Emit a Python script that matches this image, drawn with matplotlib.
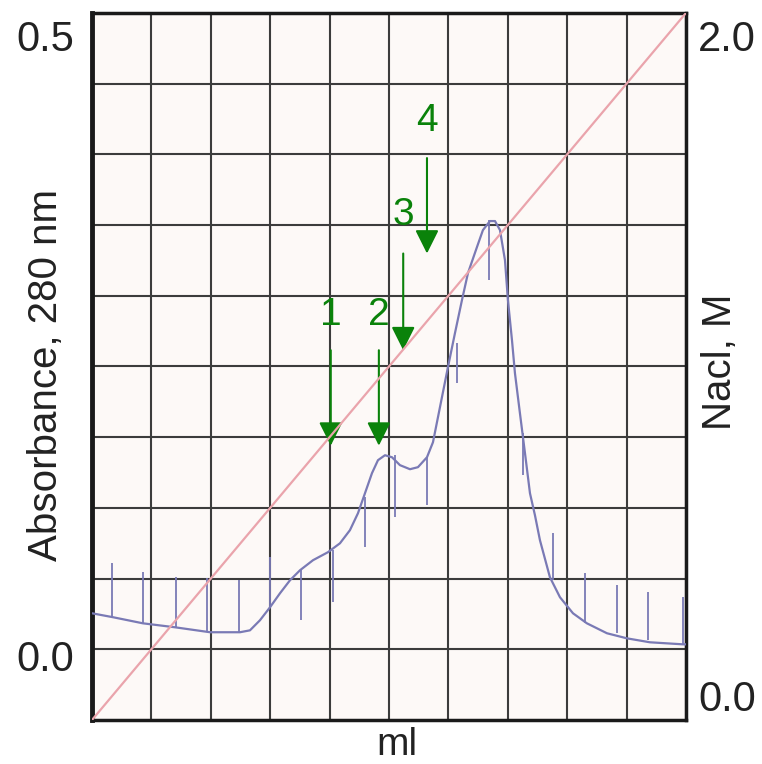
import numpy as np
import matplotlib
matplotlib.use('Agg')
import matplotlib.pyplot as plt

plt.rcParams['font.family'] = ['Liberation Sans', 'DejaVu Sans']

# Absorbance trace (ml, A280)
trace_ml = [0.00, 0.354, 0.859, 1.397, 1.987, 2.492, 2.660, 2.828, 2.997, 3.165,
            3.333, 3.502, 3.721, 3.973, 4.175, 4.343, 4.478, 4.596, 4.714, 4.815,
            4.933, 5.051, 5.185, 5.354, 5.488, 5.640, 5.741, 5.859, 5.993, 6.111,
            6.229, 6.330, 6.481, 6.582, 6.700, 6.785, 6.869, 6.953, 7.003, 7.071,
            7.121, 7.205, 7.290, 7.374, 7.458, 7.542, 7.710, 7.879, 8.098, 8.333,
            8.670, 9.007, 9.394, 9.949, 10.0]
trace_abs = [0.0283, 0.0252, 0.0204, 0.0173, 0.0134, 0.0134, 0.0149, 0.0228, 0.0330,
             0.0440, 0.0542, 0.0621, 0.0700, 0.0763, 0.0833, 0.0936, 0.1069, 0.1226,
             0.1384, 0.1486, 0.1525, 0.1509, 0.1447, 0.1415, 0.1431, 0.1509, 0.1627,
             0.1903, 0.2217, 0.2484, 0.2744, 0.2956, 0.3160, 0.3294, 0.3365, 0.3365,
             0.3294, 0.3058, 0.2744, 0.2429, 0.2170, 0.1855, 0.1541, 0.1226, 0.1053,
             0.0857, 0.0566, 0.0409, 0.0283, 0.0204, 0.0126, 0.0086, 0.0055, 0.0039,
             0.0039]

# Fraction markers (ml, top, bottom)
frac_ml = [0.337, 0.859, 1.414, 1.936, 2.475, 2.997, 3.519, 4.057, 4.596, 5.101,
           5.640, 6.145, 6.684, 7.256, 7.761, 8.300, 8.838, 9.360, 9.949]
frac_top = [0.0676, 0.0605, 0.0566, 0.0558, 0.0542, 0.0723, 0.0621, 0.0778, 0.1195,
            0.1525, 0.1509, 0.2406, 0.3373, 0.1698, 0.0912, 0.0597, 0.0503, 0.0448,
            0.0409]
frac_bot = [0.0252, 0.0204, 0.0173, 0.0134, 0.0134, 0.0330, 0.0228, 0.0370, 0.0802,
            0.1038, 0.1132, 0.2091, 0.2901, 0.1368, 0.0542, 0.0204, 0.0126, 0.0071,
            0.0039]

# NaCl gradient (ml, M)
salt_ml = [0, 10]
salt_m = [0.0, 2.0]

# Arrows: label, ml, arrow top, arrow tip, label height (absorbance units)
arrow_labels = ['1', '2', '3', '4']
arrow_ml = [4.02, 4.83, 5.24, 5.64]
arrow_top = [0.235, 0.235, 0.311, 0.386]
arrow_tip = [0.160, 0.160, 0.235, 0.311]
arrow_text_y = [0.263, 0.263, 0.341, 0.415]

row = 0.5 / 9
fig = plt.figure(figsize=(7.62, 7.64), dpi=100)
ax = fig.add_axes([0.1207, 0.0576, 0.7795, 0.9254])
ax.set_facecolor('#fdf9f7')
ax.set_xlim(0, 10)
ax.set_ylim(-row, 0.5)
ax.set_xticks(np.arange(0, 11))
ax.set_yticks(np.arange(0, 10) * row)
ax.tick_params(length=0, labelbottom=False, labelleft=False)
ax.grid(True, color='#3c3c3c', lw=1.5)
ax.set_axisbelow(True)
for s in ax.spines.values():
    s.set_linewidth(2.5)
    s.set_color('#1a1a1a')
ax.spines['left'].set_linewidth(3.5)

ax.vlines(frac_ml, frac_bot, frac_top, color='#7a7ab5', lw=1.3, zorder=3)
ax.plot(trace_ml, trace_abs, color='#7a7ab5', lw=1.6, zorder=3,
        solid_joinstyle='round')

ax2 = ax.twinx()
ax2.set_ylim(0, 2.0)
ax2.set_yticks([])
ax2.plot(salt_ml, salt_m, color='#eaa4ac', lw=1.6, zorder=2)
for s in ax2.spines.values():
    s.set_visible(False)

green = '#0a820a'
for lab, x, y0, y1, yt in zip(arrow_labels, arrow_ml, arrow_top, arrow_tip, arrow_text_y):
    ax.annotate('', xy=(x, y1), xytext=(x, y0),
                arrowprops=dict(arrowstyle='-|>,head_length=1.44,head_width=0.72',
                                color=green, lw=1.5, shrinkA=0, shrinkB=0), zorder=5)
    ax.text(x, yt, lab, color=green, fontsize=28, ha='center', va='center', zorder=5)

fs = 30
tc = '#222222'
fig.text(0.059, 1 - 40 / 764, '0.5', fontsize=fs, ha='center', va='center', color=tc)
fig.text(0.059, 1 - 660 / 764, '0.0', fontsize=fs, ha='center', va='center', color=tc)
fig.text(0.954, 1 - 40 / 764, '2.0', fontsize=fs, ha='center', va='center', color=tc)
fig.text(0.954, 1 - 700 / 764, '0.0', fontsize=fs, ha='center', va='center', color=tc)
fig.text(46 / 762, 1 - 375 / 764, 'Absorbance, 280 nm', fontsize=29, rotation=90,
         ha='center', va='center', color=tc)
fig.text(720 / 762, 1 - 362 / 764, 'Nacl, M', fontsize=29, rotation=90,
         ha='center', va='center', color=tc)
fig.text(397 / 762, 1 - 755 / 764, 'ml', fontsize=28, ha='center', va='baseline', color=tc)

fig.savefig('out.png', dpi=100, facecolor='white')
